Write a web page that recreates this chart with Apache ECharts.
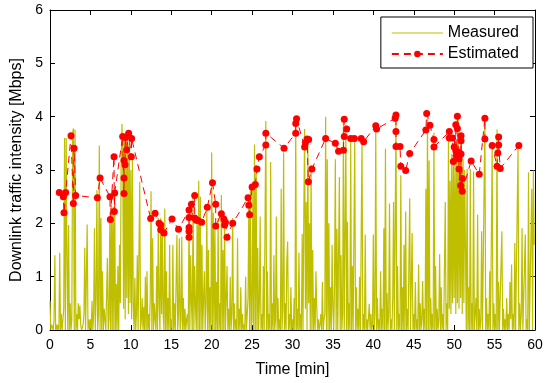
<!DOCTYPE html>
<html>
<head>
<meta charset="utf-8">
<script src="https://cdn.jsdelivr.net/npm/echarts@6/dist/echarts.min.js"></script>
<style>html,body{margin:0;padding:0;background:#fff}#c{width:553px;height:383px}</style>
</head>
<body>
<div id="c"></div>
<script>
// Measured traffic, one value every 0.1 min
const STEP = 0.1;
const measured00 = [
0.55,0,0.1,0.05,0,0.2,1.4,0,0.1,0,
0.1,0,1.45,0,0.3,0,0,0.4,3.6,0,
3.6,1.4,0,1.97,0,0.5,0,0.2,3.7,3.78,
0,3.76,0,0.3,0,0.5,0.2,0.46,0.1,0,
0,0.1,0.3,1.54,0,0,1.98,0,0.2,0,
0.2,0,0.55,0,0.3,1.91,0,0.6,2.62,0,
0.3,3.46,0,2.1,0,1.1,0,0.4,0.2,0,
0,1.35,0,0.2,2.1,0,2.47,0,2.3,0,
2.65,0,0.86,0,1.2,0,1.6,0.5,3.1,3.86,
3.2,0.4,3.64,0.2,3.55,0.6,3.75,0.3,3.5,0.5];
const measured10 = [
3.0,0.2,3.2,0.5,0,0.98,0,0.3,1.4,0,
0,2.78,0,0.2,0.6,0,0.43,0,1.0,0,
1.1,0,0.3,0,0.6,2.6,0,1.72,0,0.5,
0.2,0,1.2,0,2.1,0.5,0,2.1,0.3,1.95,
0.3,0,2.28,0,1.1,0,0.6,0,1.6,0,
0.2,0,1.6,0,0.5,0,0,1.78,0,0.3,
1.72,0,0.2,1.75,0,0.6,0,0.4,0,0.2,
0.3,0,2.2,0,1.4,0.5,0,2.5,0,1.2,
0.4,0,2.1,0,2.8,0,2.5,0,1.6,0,
0.6,1.1,0,0.5,2.3,0,1.5,0,0.8,0];
const measured20 = [
3.33,0,2.2,0,2.0,0,0.9,0,2.1,0,
0.5,0,2.53,0,1.5,0,2.1,0,0.6,1.2,
0,0.4,0,1.0,0,0.3,2.1,0,0.5,0,
0.2,0,1.72,0,0.4,0,0.8,0,0.3,0,
0.1,0,1.0,0,0.3,0.6,2.47,0,2.71,0,
0.2,2.7,0,3.48,0,3.1,0,1.54,0,0.5,
2.13,0,0.3,0,1.2,0,0,3.92,0,1.1,
0,0.3,0,3.15,0,0.5,0,1.4,0,0.2,
2.13,0,0.6,0,0.2,0,2.65,0,0.4,3.33,
0,0.5,0,1.3,1.66,0,0.3,0,0.8,0];
const measured30 = [
0.2,0,0.6,0,3.92,0,0.4,0,1.45,0,
0.3,0,1.8,0,2.2,3.77,0.4,2.4,0,3.45,
0.5,2.0,0,3.09,0,1.5,0,0.6,0,1.1,
0.43,0,0.2,0,0.1,0.3,0,0.9,0,0.2,
0.3,4.0,0,3.2,0,2.0,0,0.8,0,1.6,
0.4,0,0.9,3.2,0,1.9,0,0,2.87,0,
1.4,0,0.3,3.95,0,0,3.6,0,2.03,0,
0.5,0,3.58,0,1.2,0,0,3.6,0,0.8,
0,0.4,0,1.0,0,0,3.58,0,0.3,0,
1.79,0,0.2,0,0,0.49,0,0.3,0,0.1];
const measured40 = [
1.79,0,0.3,3.76,0,0.6,0,0.2,0,1.1,
0,0.4,0,1.91,0,3.4,0,0.7,0,0.3,
2.37,0,0.2,0,0.6,2.4,0,0,3.98,0,
1.2,0,0.3,0,2.9,0,0.8,0,1.6,0,
2.22,0,0.4,0,0,2.47,0,0,1.82,0,
0.3,0,0.9,0,0.2,0,1.23,0,0.5,0,
0.2,0.92,0,0.4,0,2.65,0,3.95,0,3.18,
0,0.6,0,0.3,0,3.7,0,1.2,0,0.4,
0,0.2,1.42,0,0.8,0,0.3,0,0,2.4,
0,0.5,0,3.76,0.4,2.8,0.3,3.3,0.5,3.1];
const measured50 = [
0.6,3.4,0.3,3.2,0.5,4.01,0.4,3.3,0.6,3.5,
0.3,3.2,0.5,3.0,1.5,0,3.02,0,0.8,0,
3.02,0,0.5,0,2.97,0,0,0.6,0,2.16,
0,0.4,0,0.2,1.85,0,0,0,3.95,0,
0.6,0,0.3,0,1.1,0,0,3.46,0,0.5,
0,0.3,0,3.76,0,0.9,0,0,0,1.85,
0,0.4,0,0.2,0,0.6,0,0.3,0,0.9,
0.2,1.23,0,0.3,0,1.63,0,0,0,3.4,
0,0.5,0,0.3,1.91,0,0,0,1.79,0,
0.2,0,2.96,0,0,0,2.65,0,2.99,1.6];

// Estimated traffic: times [min] and values [Mbps]
const estTime = [
1.15,1.65,1.73,1.94,2.60,2.89,2.97,3.18,5.86,6.19,
7.42,7.46,7.92,7.96,8.00,8.99,9.15,9.15,9.15,9.28,
9.32,9.48,9.73,10.06,10.10,12.45,13.0,13.5,13.7,13.7,
14.1,15.1,15.9,17.2,17.5,17.2,17.2,17.2,17.2,17.9,
17.9,18.1,18.3,18.76,19.46,20.1,20.5,20.5,21.2,21.5,
21.6,21.7,21.9,22.6,24.5,24.6,24.7,25.0,25.4,25.6,
25.9,26.7,26.7,28.95,30.4,30.4,30.5,31.5,31.6,31.8,
32.0,31.96,32.4,34.1,35.3,35.7,36.3,36.4,36.7,36.4,
37.2,37.65,38.5,38.8,40.3,40.4,42.7,42.8,42.8,42.8,
43.3,43.4,44.0,44.5,46.5,46.6,47.0,47.5,47.5,49.4,
49.4,49.8,49.9,50.0,50.2,50.2,50.3,50.4,50.4,50.6,
50.6,50.6,50.8,50.85,50.85,50.85,51.0,51.0,52.1,53.1,
53.8,53.8,54.7,55.3,55.4,55.5,55.5,55.7,58.0];
const estValue = [
2.58,2.50,2.20,2.58,3.64,2.37,3.41,2.52,2.48,2.85,
2.50,2.07,3.25,2.22,2.57,3.63,2.56,2.85,3.18,3.10,
3.61,3.38,3.69,3.25,3.59,2.09,2.19,2.00,1.97,1.88,
1.82,2.08,1.89,2.25,2.36,2.11,1.92,1.85,1.74,2.52,
2.10,2.06,2.06,2.02,2.30,2.76,2.36,1.95,2.18,2.08,
1.97,2.02,1.74,2.00,2.48,2.34,2.16,2.68,2.73,3.02,
3.25,3.47,3.69,3.41,3.69,3.87,3.96,3.43,3.51,3.58,
3.57,2.78,3.02,3.59,3.50,3.35,3.37,3.95,3.77,3.63,
3.59,3.59,3.59,3.53,3.83,3.77,3.97,4.03,3.72,3.44,
3.44,3.07,2.99,3.31,3.75,4.06,3.84,3.57,3.43,3.72,
3.60,3.60,3.16,3.43,3.85,3.36,3.27,4.01,3.78,3.33,
3.21,3.02,2.71,3.64,3.55,3.30,2.84,2.60,3.17,2.92,
3.97,3.58,3.46,3.07,3.32,3.62,3.47,3.03,3.46];

const xTicks = {min: 0, max: 60, interval: 5};
const yTicks = {min: 0, max: 6, interval: 1};

const measured = [].concat(measured00, measured10, measured20, measured30, measured40, measured50);
const measuredData = measured.map((v, i) => [+(i * STEP).toFixed(2), v]);
const estData = estTime.map((t, i) => [t, estValue[i]]);

const FONT = 'Liberation Sans, Arial, Helvetica, sans-serif';
const axisCommon = {
  axisLine: {show: true, onZero: false, lineStyle: {color: '#000', width: 1}},
  axisTick: {show: true, inside: true, length: 5, lineStyle: {color: '#000'}},
  splitLine: {show: false}
};

const chart = echarts.init(document.getElementById('c'), null, {renderer: 'canvas'});
chart.setOption({
  animation: false,
  backgroundColor: '#fff',
  grid: {left: 50, right: 18, top: 10, bottom: 49, containLabel: false},
  legend: {
    orient: 'vertical', right: 20, top: 17,
    backgroundColor: '#fff', borderColor: '#000', borderWidth: 1, borderRadius: 0,
    padding: [7, 14, 5, 10], itemGap: 3, itemWidth: 51, itemHeight: 8,
    textStyle: {fontFamily: FONT, fontSize: 16, color: '#000', lineHeight: 18},
    data: [
      {name: 'Measured', itemStyle: {opacity: 0}, lineStyle: {width: 1}},
      {name: 'Estimated'}
    ]
  },
  xAxis: [
    Object.assign({type: 'value', position: 'bottom', min: xTicks.min, max: xTicks.max, interval: xTicks.interval,
      name: 'Time [min]', nameLocation: 'middle', nameGap: 32,
      nameTextStyle: {fontFamily: FONT, fontSize: 16, color: '#000'},
      axisLabel: {fontFamily: FONT, fontSize: 14, color: '#000', margin: 8}}, axisCommon),
    Object.assign({type: 'value', position: 'top', min: xTicks.min, max: xTicks.max, interval: xTicks.interval,
      axisLabel: {show: false}}, axisCommon)
  ],
  yAxis: [
    Object.assign({type: 'value', position: 'left', min: yTicks.min, max: yTicks.max, interval: yTicks.interval,
      name: 'Downlink traffic intensity [Mbps]', nameLocation: 'middle', nameGap: 18,
      nameTextStyle: {fontFamily: FONT, fontSize: 16, color: '#000'},
      axisLabel: {fontFamily: FONT, fontSize: 14, color: '#000', margin: 7}}, axisCommon),
    Object.assign({type: 'value', position: 'right', min: yTicks.min, max: yTicks.max, interval: yTicks.interval,
      axisLabel: {show: false}}, axisCommon)
  ],
  series: [
    {
      name: 'Measured', type: 'line', data: measuredData, xAxisIndex: 0, yAxisIndex: 0,
      symbol: 'none', showSymbol: false, sampling: null, z: 2,
      lineStyle: {color: '#bfbf00', width: 1.2}, itemStyle: {color: '#bfbf00'}
    },
    {
      name: 'Estimated', type: 'line', data: estData, xAxisIndex: 0, yAxisIndex: 0,
      symbol: 'circle', symbolSize: 7, showSymbol: true, z: 3,
      lineStyle: {color: '#ff0000', width: 1, type: [7, 5]}, itemStyle: {color: '#ff0000'}
    }
  ]
});
</script>
</body>
</html>
